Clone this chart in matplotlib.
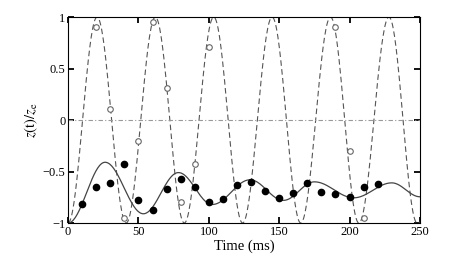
import matplotlib.pyplot as plt
import numpy as np

plt.rcParams['font.family'] = ['Liberation Serif', 'DejaVu Serif']
plt.rcParams['mathtext.fontset'] = 'stix'

# measured points
t_dots = [10, 20, 30, 40, 50, 60, 70, 80, 90, 100, 110, 120, 130, 140, 150,
          160, 170, 180, 190, 200, 210, 220]
z_dots = [-0.82, -0.65, -0.61, -0.43, -0.78, -0.87, -0.67, -0.57, -0.65, -0.80,
          -0.77, -0.63, -0.60, -0.69, -0.76, -0.705, -0.615, -0.70, -0.72,
          -0.745, -0.65, -0.625]
t_open = [20, 30, 40, 50, 60, 70, 80, 90, 100, 190, 200, 210]
z_open = [0.906, 0.107, -0.955, -0.20, 0.955, 0.31, -0.80, -0.43, 0.706,
          0.906, -0.30, -0.955]

# theory curves, turning points
t_solid = [0, 26.3, 53.5, 78.4, 102.5, 129.3, 153, 175, 203, 230, 250]
z_solid = [-1, -0.41, -0.91, -0.51, -0.82, -0.58, -0.78, -0.60, -0.755, -0.61, -0.745]
t_dash = [0, 20.6, 41.3, 62, 82.6, 103.5, 124, 145, 165.3, 186.5, 206.6, 228, 248, 250]
z_dash = [-1, 1, -1, 1, -1, 1, -1, 1, -1, 1, -1, 1, -1, -0.99]


def smooth(tk, zk, n=40):
    # join turning points with half-cosine segments
    tt, zz = [], []
    for i in range(len(tk) - 1):
        s = np.linspace(0, 1, n, endpoint=False)
        tt.append(tk[i] + (tk[i+1] - tk[i]) * s)
        zz.append(zk[i] + (zk[i+1] - zk[i]) * (1 - np.cos(np.pi * s)) / 2)
    tt.append([tk[-1]])
    zz.append([zk[-1]])
    return np.concatenate(tt), np.concatenate(zz)


fig = plt.figure(figsize=(4.63, 2.71), dpi=100)
ax = fig.add_axes([0.147, 0.177, 0.76, 0.76])

ts, zs = smooth(t_solid, z_solid)
td, zd = smooth(t_dash, z_dash)
ax.plot(td, zd, color='#555555', lw=0.8, dashes=(5, 3))
ax.plot(ts, zs, color='#444444', lw=0.9)
ax.axhline(0, color='#999999', lw=0.8, dashes=(4, 2, 1, 2))
ax.plot(t_open, z_open, 'o', mfc='white', mec='#666666', ms=4, mew=0.8)
ax.plot(t_dots, z_dots, 'o', color='black', ms=4.5)

ax.set_xlim(0, 250)
ax.set_ylim(-1, 1)
ax.set_xticks([0, 50, 100, 150, 200, 250])
ax.set_yticks([-1, -0.5, 0, 0.5, 1])
ax.set_yticklabels(['\u22121', '\u22120.5', '0', '0.5', '1'])
ax.tick_params(direction='in', top=True, right=True, length=4, width=1.3,
               labelsize=9, pad=2)
for s in ax.spines.values():
    s.set_linewidth(0.8)
ax.set_xlabel('Time (ms)', fontsize=10.5, labelpad=1)
ax.set_ylabel('$z(\\mathrm{t})/z_{\\mathrm{e}}$', fontsize=10.5, labelpad=2)

fig.savefig('out.png', dpi=100)
